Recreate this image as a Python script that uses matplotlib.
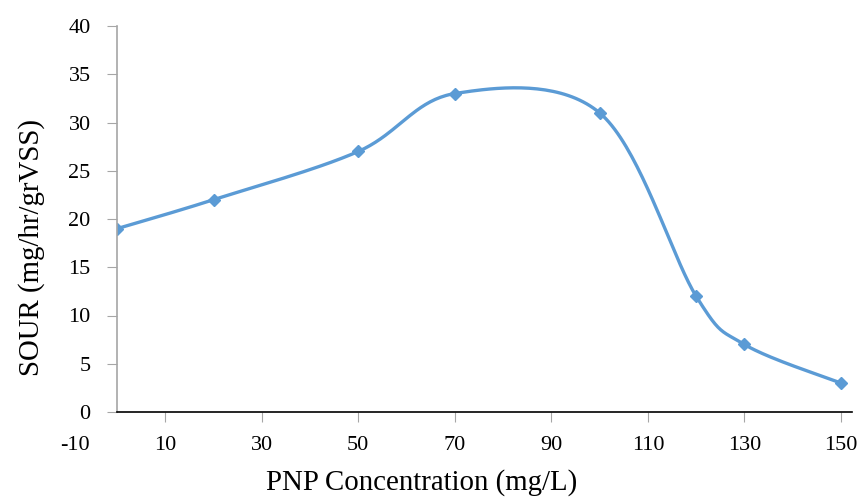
import numpy as np
import matplotlib
matplotlib.use("Agg")
import matplotlib.pyplot as plt

# PNP concentration (mg/L) vs SOUR (mg/hr/grVSS)
conc = [0, 20, 50, 70, 100, 120, 130, 150]
sour = [19, 22, 27, 33, 31, 12, 7, 3]
xticks = [10, 30, 50, 70, 90, 110, 130, 150]
yticks = [0, 5, 10, 15, 20, 25, 30, 35, 40]

blue = "#5B9BD5"
plt.rcParams['font.family'] = ['Liberation Serif', 'DejaVu Serif']


def smooth(xs, ys, n=40):
    # excel-like smoothed line: catmull-rom bezier through the points
    p = np.column_stack([xs, ys]).astype(float)
    p = np.vstack([p[0], p, p[-1]])
    out = []
    for i in range(1, len(p) - 2):
        p0, p1, p2, p3 = p[i - 1], p[i], p[i + 1], p[i + 2]
        c1 = p1 + (p2 - p0) / 6
        c2 = p2 - (p3 - p1) / 6
        t = np.linspace(0, 1, n)[:, None]
        seg = ((1 - t) ** 3) * p1 + 3 * ((1 - t) ** 2) * t * c1 + 3 * (1 - t) * t ** 2 * c2 + t ** 3 * p2
        out.append(seg if i == 1 else seg[1:])
    out = np.vstack(out)
    return out[:, 0], out[:, 1]


fig = plt.figure(figsize=(8.58, 4.97), dpi=100)
ax = fig.add_axes([117 / 858, 1 - 412 / 497, 735 / 858, 386 / 497])

sx, sy = smooth(conc, sour)
ax.plot(sx, sy, color=blue, lw=2.4, solid_capstyle='round')
ax.plot(conc, sour, 'D', color=blue, ms=6.5)

ax.set_xlim(0, 152.3)
ax.set_ylim(0, 40)
ax.set_xticks(xticks)
ax.set_yticks(yticks)
ax.tick_params(axis='x', length=7, color='#a6a6a6', labelsize=16, pad=10)
ax.tick_params(axis='y', length=7, color='#a6a6a6', labelsize=16, pad=12)
ax.text(-8.7, -0.062, "-10", transform=ax.get_xaxis_transform(), ha='center', va='top', fontsize=16)

for s in ['top', 'right']:
    ax.spines[s].set_visible(False)
ax.spines['left'].set_color('#a6a6a6')
ax.spines['bottom'].set_color('black')
ax.spines['left'].set_linewidth(1.2)
ax.spines['bottom'].set_linewidth(1.2)

ax.set_xlabel("PNP Concentration (mg/L)", fontsize=20.8)
ax.set_ylabel("SOUR (mg/hr/grVSS)", fontsize=20.8)
ax.xaxis.set_label_coords(0.415, -0.148)
ax.yaxis.set_label_coords(-0.098, 0.425)

fig.savefig("out.png", dpi=100)
